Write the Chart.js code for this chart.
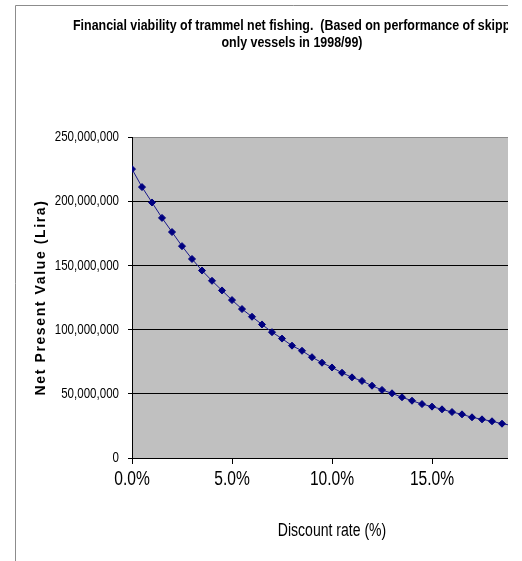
<!DOCTYPE html>
<html>
<head>
<meta charset="utf-8">
<title>Financial viability of trammel net fishing</title>
<script src="https://cdn.jsdelivr.net/npm/chart.js@4/dist/chart.umd.min.js"></script>
<style>
  html, body { margin: 0; padding: 0; background: #ffffff; }
  #wrap { position: absolute; left: 0; top: 0; width: 508px; height: 561px; overflow: hidden; }
  canvas { display: block; }
</style>
</head>
<body>
<div id="wrap"><canvas id="npv" width="572" height="561" style="width:572px;height:561px"></canvas></div>
<script>
// Discount rate (%) for each evaluated scenario
const discountRates = [
  0.0, 0.5, 1.0, 1.5, 2.0, 2.5, 3.0, 3.5, 4.0, 4.5,
  5.0, 5.5, 6.0, 6.5, 7.0, 7.5, 8.0, 8.5, 9.0, 9.5,
  10.0, 10.5, 11.0, 11.5, 12.0, 12.5, 13.0, 13.5, 14.0, 14.5,
  15.0, 15.5, 16.0, 16.5, 17.0, 17.5, 18.0, 18.5, 19.0
];

// Net present value (Lira) at each discount rate
const netPresentValue = [
  225000000, 211000000, 199000000, 187000000, 176000000, 165000000, 155000000, 146000000, 138000000, 130500000,
  123000000, 116000000, 110000000, 104000000, 98000000, 93000000, 87500000, 83500000, 78500000, 74200000,
  70500000, 66400000, 62800000, 60000000, 56300000, 53000000, 50400000, 47300000, 44600000, 42000000,
  40000000, 37900000, 35800000, 34000000, 31700000, 30100000, 28600000, 26700000, 25300000
];

// Axis ticks
const yTicks = [0, 50000000, 100000000, 150000000, 200000000, 250000000];
const xTicks = [0, 5, 10, 15, 20];

const titleLines = [
  'Financial viability of trammel net fishing.  (Based on performance of skipper',
  'only vessels in 1998/99)'
];
const xTitle = 'Discount rate (%)';
const yTitle = 'Net Present Value (Lira)';

const SANS = '"Liberation Sans", Arial, sans-serif';

const points = discountRates.map((r, i) => ({ x: r, y: netPresentValue[i] }));

// Draws text squeezed horizontally (narrow face look)
function narrowText(ctx, text, x, y, font, sx, align) {
  ctx.save();
  ctx.font = font;
  ctx.textAlign = align;
  ctx.textBaseline = 'middle';
  ctx.translate(x, y);
  ctx.scale(sx, 1);
  ctx.fillText(text, 0, 0);
  ctx.restore();
}

// Outer frame, grey plot area, tick labels and titles
const decorations = {
  id: 'decorations',
  beforeDraw(chart) {
    const { ctx, chartArea } = chart;
    ctx.save();
    ctx.fillStyle = '#ffffff';
    ctx.fillRect(0, 0, chart.width, chart.height);
    ctx.strokeStyle = '#8c8c8c';
    ctx.lineWidth = 1;
    ctx.beginPath();
    ctx.moveTo(15.5, chart.height);
    ctx.lineTo(15.5, 5.5);
    ctx.lineTo(chart.width, 5.5);
    ctx.stroke();
    ctx.fillStyle = '#c0c0c0';
    ctx.fillRect(chartArea.left, chartArea.top, chartArea.right - chartArea.left, chartArea.bottom - chartArea.top);
    ctx.restore();
  },
  afterDraw(chart) {
    const { ctx, chartArea } = chart;
    const xs = chart.scales.x, ys = chart.scales.y;
    ctx.save();
    ctx.fillStyle = '#000000';

    // tick labels
    ys.ticks.forEach(t => {
      narrowText(ctx, t.label, 119, ys.getPixelForValue(t.value), '15px ' + SANS, 0.77, 'right');
    });
    xs.ticks.forEach(t => {
      narrowText(ctx, t.label, xs.getPixelForValue(t.value), 479, '20px ' + SANS, 0.78, 'center');
    });

    // chart title, two lines
    ctx.font = 'bold 15px ' + SANS;
    const w1 = ctx.measureText(titleLines[0]).width;
    const sx = 449 / w1;
    narrowText(ctx, titleLines[0], 297.5, 26, 'bold 15px ' + SANS, sx, 'center');
    narrowText(ctx, titleLines[1], 292, 43, 'bold 15px ' + SANS, sx, 'center');

    // axis titles
    narrowText(ctx, xTitle, (chartArea.left + chartArea.right) / 2, 531, '18px ' + SANS, 0.78, 'center');

    ctx.translate(41, (chartArea.top + chartArea.bottom) / 2);
    ctx.rotate(-Math.PI / 2);
    ctx.font = 'bold 14px ' + SANS;
    ctx.textAlign = 'center';
    ctx.textBaseline = 'middle';
    const w0 = ctx.measureText(yTitle).width;
    ctx.letterSpacing = Math.max(0, (196 - w0) / yTitle.length) + 'px';
    ctx.fillText(yTitle, 0, 0);
    ctx.restore();
  }
};

new Chart(document.getElementById('npv'), {
  type: 'line',
  data: {
    datasets: [{
      data: points,
      borderColor: '#1a1a8c',
      borderWidth: 1,
      backgroundColor: '#000080',
      pointStyle: 'rectRot',
      pointRadius: 3.5,
      pointBorderWidth: 1,
      pointBorderColor: '#000080',
      pointBackgroundColor: '#000080',
      tension: 0,
      clip: 0
    }]
  },
  options: {
    responsive: false,
    animation: false,
    devicePixelRatio: 1,
    layout: { padding: { left: 0, top: 137, right: 40, bottom: 0 } },
    plugins: { legend: { display: false }, title: { display: false }, tooltip: { enabled: false } },
    scales: {
      x: {
        type: 'linear',
        min: 0,
        max: 20,
        afterFit(s) { s.height = 103; },
        afterBuildTicks(s) { s.ticks = xTicks.map(v => ({ value: v })); },
        grid: { drawOnChartArea: false, drawTicks: true, tickLength: 6, tickColor: '#000000', lineWidth: 1 },
        border: { display: true, color: '#000000', width: 1 },
        ticks: {
          padding: 5,
          color: 'rgba(0,0,0,0)',
          maxRotation: 0,
          autoSkip: false,
          font: { family: SANS, size: 16, lineHeight: 1 },
          callback: v => Number(v).toFixed(1) + '%'
        }
      },
      y: {
        min: 0,
        max: 250000000,
        afterFit(s) { s.width = 132; },
        afterBuildTicks(s) { s.ticks = yTicks.map(v => ({ value: v })); },
        grid: {
          color: c => (c.tick && c.tick.value === 250000000) ? '#8c8c8c' : '#000000',
          lineWidth: 1,
          drawTicks: true,
          tickLength: 4,
          tickColor: '#000000'
        },
        border: { display: true, color: '#000000', width: 1 },
        ticks: {
          padding: 9,
          color: 'rgba(0,0,0,0)',
          font: { family: SANS, size: 12 },
          callback: v => Number(v).toLocaleString('en-US')
        }
      }
    }
  },
  plugins: [decorations]
});
</script>
</body>
</html>
